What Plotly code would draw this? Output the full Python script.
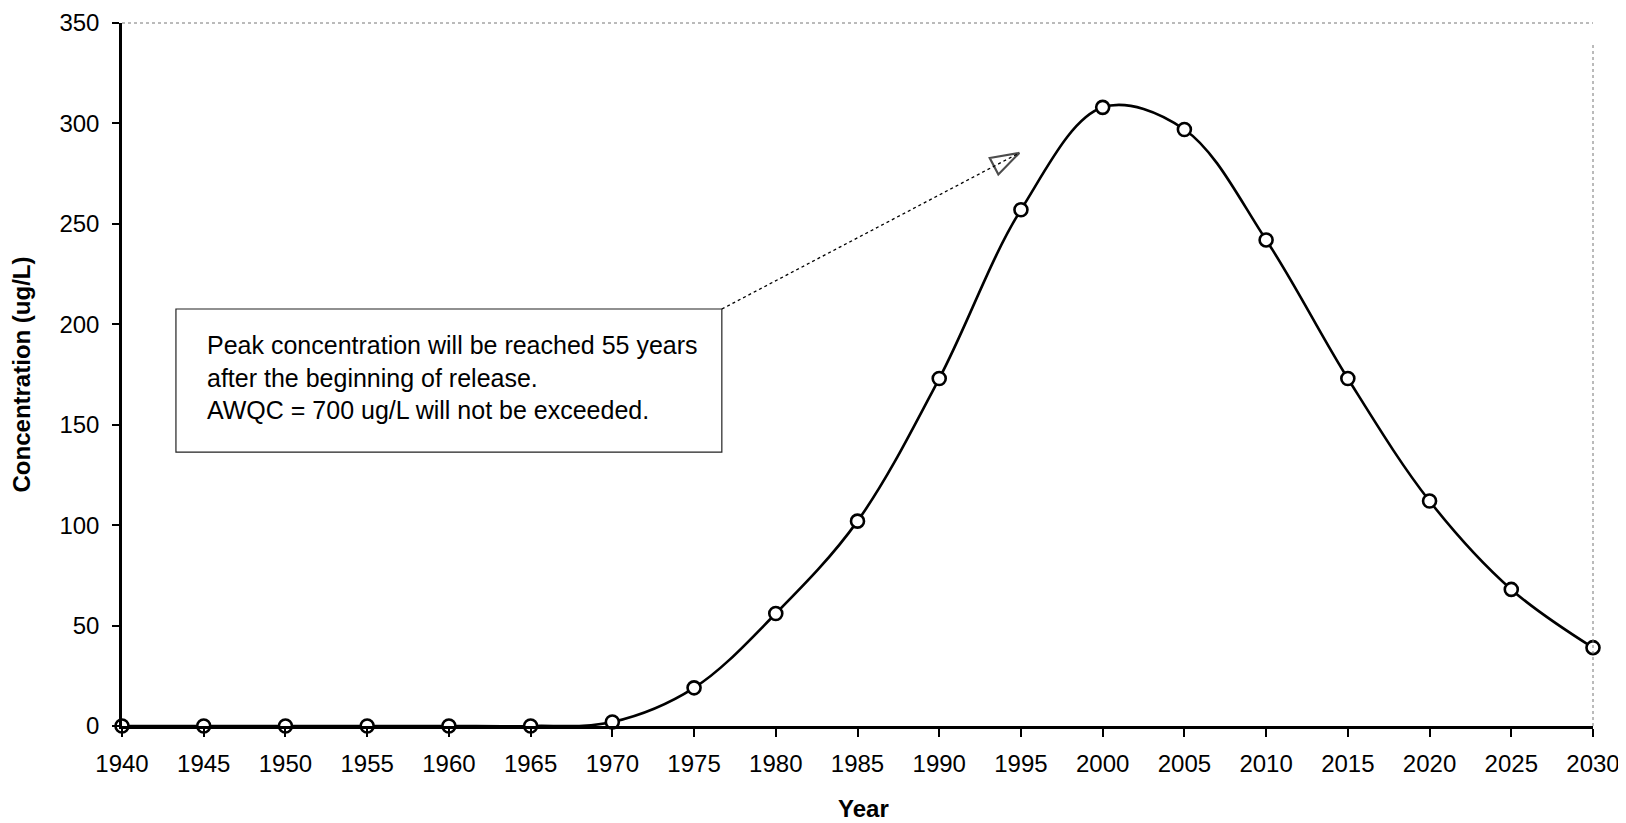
import plotly.graph_objects as go

years = [1940, 1945, 1950, 1955, 1960, 1965, 1970, 1975, 1980, 1985,
         1990, 1995, 2000, 2005, 2010, 2015, 2020, 2025, 2030]
concentration = [0, 0, 0, 0, 0, 0, 2, 19, 56, 102,
                 173, 257, 308, 297, 242, 173, 112, 68, 39]
x_ticks = list(range(1940, 2031, 5))
y_ticks = [0, 50, 100, 150, 200, 250, 300, 350]

note_lines = ["Peak concentration will be reached 55 years",
              "after the beginning of release.",
              "AWQC = 700 ug/L will not be exceeded."]
# annotation box (data coords) and arrow
box_x = [1943.3, 1976.7]
box_y = [136.4, 207.6]
arrow_x = [1976.7, 1994.9]
arrow_y = [207.6, 285.3]

FONT = "Liberation Sans, Arial, sans-serif"

fig = go.Figure()
fig.add_trace(go.Scatter(
    x=years, y=concentration, mode="lines+markers",
    line=dict(color="black", width=2.6, shape="spline", smoothing=1.0),
    marker=dict(symbol="circle", size=13, color="white",
                line=dict(color="black", width=2.6)),
    cliponaxis=False, showlegend=False,
))
# arrow from box to curve
fig.add_trace(go.Scatter(
    x=arrow_x, y=arrow_y, mode="lines+markers",
    line=dict(color="black", width=1.3, dash="dot"),
    marker=dict(symbol=["circle", "arrow-open"], size=[0, 30],
                angleref="previous", color="black",
                line=dict(color="black", width=2.2)),
    showlegend=False, hoverinfo="skip",
))

fig.add_shape(type="rect", x0=box_x[0], x1=box_x[1], y0=box_y[0], y1=box_y[1],
              xref="x", yref="y", line=dict(color="#222", width=1.2),
              fillcolor="white", layer="below")
fig.add_annotation(x=box_x[0] + 1.8, y=(box_y[0] + box_y[1]) / 2 + 1.5,
                   xref="x", yref="y", xanchor="left", yanchor="middle",
                   align="left", showarrow=False,
                   text="<br>".join(note_lines),
                   font=dict(family=FONT, size=25, color="black"))

# x-axis title placed as an annotation
fig.add_annotation(x=0.504, y=-0.118, xref="paper", yref="paper",
                   xanchor="center", yanchor="middle", showarrow=False,
                   text="<b>Year</b>", font=dict(family=FONT, size=24, color="black"))

# faint dotted top and right borders
fig.add_shape(type="line", xref="paper", yref="paper", x0=0, x1=1, y0=1, y1=1,
              line=dict(color="#777", width=1, dash="dot"))
fig.add_shape(type="line", xref="paper", yref="paper", x0=1, x1=1, y0=0, y1=0.97,
              line=dict(color="#777", width=1, dash="dot"))

fig.update_layout(
    width=1618, height=815,
    margin=dict(l=114, r=33, t=15, b=97, autoexpand=False),
    paper_bgcolor="white", plot_bgcolor="white",
    font=dict(family=FONT, size=24, color="black"),
    xaxis=dict(range=[1940, 2030], tickvals=x_ticks,
               ticktext=[str(t) for t in x_ticks], automargin=True,
               ticklabeloverflow="allow",
               showgrid=False, zeroline=False,
               showline=True, linecolor="black", linewidth=2.5,
               ticks="outside", ticklen=8, tickwidth=2, tickcolor="black",
               ticklabelstandoff=6),
    yaxis=dict(range=[0, 350], tickvals=y_ticks, automargin=True,
               ticklabeloverflow="allow",
               showgrid=False, zeroline=False,
               showline=True, linecolor="black", linewidth=2.5,
               ticks="outside", ticklen=7, tickwidth=2, tickcolor="black",
               ticklabelstandoff=8,
               title=dict(text="<b>Concentration (ug/L)</b>", standoff=24,
                          font=dict(family=FONT, size=24))),
)

fig.write_html("out.html")
